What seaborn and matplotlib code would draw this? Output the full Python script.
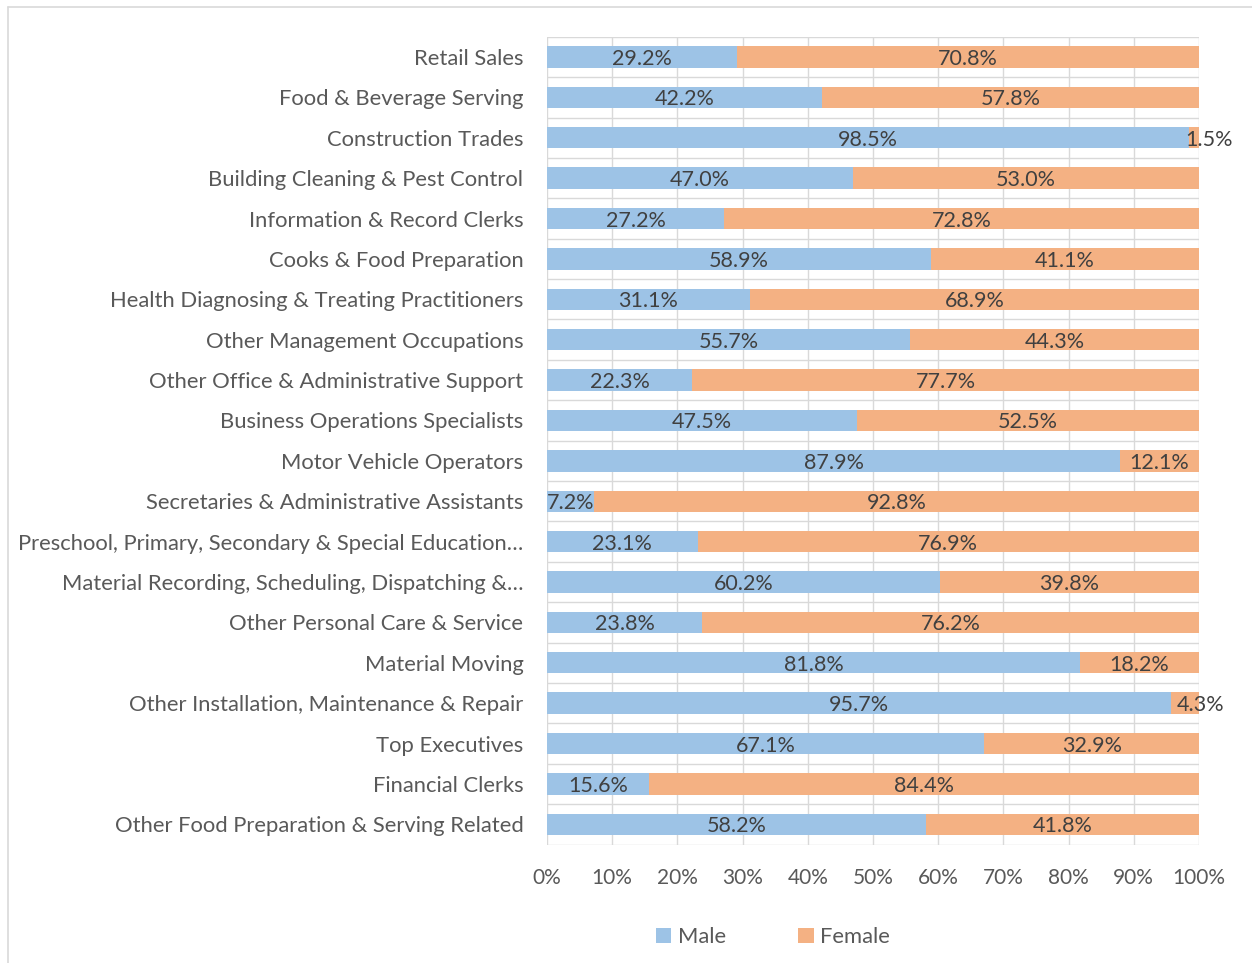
import matplotlib
matplotlib.use("Agg")
import matplotlib.pyplot as plt
from matplotlib.lines import Line2D
from matplotlib.patches import Patch
import numpy as np
import pandas as pd
import seaborn as sns

categories = [
    "Retail Sales",
    "Food & Beverage Serving",
    "Construction Trades",
    "Building Cleaning & Pest Control",
    "Information & Record Clerks",
    "Cooks & Food Preparation",
    "Health Diagnosing & Treating Practitioners",
    "Other Management Occupations",
    "Other Office & Administrative Support",
    "Business Operations Specialists",
    "Motor Vehicle Operators",
    "Secretaries & Administrative Assistants",
    "Preschool, Primary, Secondary & Special Education\u2026",
    "Material Recording, Scheduling, Dispatching &\u2026",
    "Other Personal Care & Service",
    "Material Moving",
    "Other Installation, Maintenance & Repair",
    "Top Executives",
    "Financial Clerks",
    "Other Food Preparation & Serving Related",
]
male = [29.2, 42.2, 98.5, 47.0, 27.2, 58.9, 31.1, 55.7, 22.3, 47.5,
        87.9, 7.2, 23.1, 60.2, 23.8, 81.8, 95.7, 67.1, 15.6, 58.2]
female = [70.8, 57.8, 1.5, 53.0, 72.8, 41.1, 68.9, 44.3, 77.7, 52.5,
          12.1, 92.8, 76.9, 39.8, 76.2, 18.2, 4.3, 32.9, 84.4, 41.8]
xticks = [0, 10, 20, 30, 40, 50, 60, 70, 80, 90, 100]
series_names = ["Male", "Female"]

BLUE = "#9DC3E6"
ORANGE = "#F4B183"
GRID = "#D9D9D9"
AXTXT = "#595959"
LBLTXT = "#404040"

sns.set_theme(style="white")
plt.rcParams["font.family"] = ["Lato", "DejaVu Sans"]

df = pd.DataFrame({"cat": categories, "male": male, "female": female})
df["total"] = df["male"] + df["female"]

fig = plt.figure(figsize=(12.52, 9.63), dpi=100)
ax = fig.add_axes([547 / 1252, 1 - 844.5 / 963, (1199 - 547) / 1252, (844.5 - 36.8) / 963])

sns.barplot(data=df, y="cat", x="total", color=ORANGE, orient="h", width=0.53,
            saturation=1, ax=ax, errorbar=None, zorder=3, linewidth=0)
sns.barplot(data=df, y="cat", x="male", color=BLUE, orient="h", width=0.53,
            saturation=1, ax=ax, errorbar=None, zorder=3, linewidth=0)

n = len(categories)
ax.set_xlim(0, 100)
ax.set_ylim(n - 0.5, -0.5)
ax.set_xticks(xticks)
ax.set_xticklabels([f"{t}%" for t in xticks])
ax.set_yticks(np.arange(n), minor=False)
ax.set_yticks(np.arange(-0.5, n, 1.0), minor=True)
ax.grid(True, which="major", axis="x", color=GRID, linewidth=1.0, zorder=0)
ax.grid(True, which="minor", axis="y", color=GRID, linewidth=1.0, zorder=0)
ax.grid(False, which="major", axis="y")
for s in ax.spines.values():
    s.set_visible(False)
ax.tick_params(axis="both", which="both", length=0)
ax.tick_params(axis="x", pad=17, labelsize=15, labelcolor=AXTXT)
ax.tick_params(axis="y", pad=17, labelsize=15.8, labelcolor=AXTXT)
ax.set_xlabel("")
ax.set_ylabel("")

for i, (m, f) in enumerate(zip(male, female)):
    ax.text(m / 2, i, f"{m:.1f}%", ha="center", va="center_baseline", fontsize=15.5,
            color=LBLTXT, zorder=5)
    xc = m + f / 2
    ax.annotate(f"{f:.1f}%", (xc, i), xytext=(11 if f < 5 else 0, 0),
                textcoords="offset points", ha="center", va="center_baseline",
                fontsize=15.5, color=LBLTXT, zorder=5, annotation_clip=False)

handles = [Patch(facecolor=BLUE, edgecolor="none"), Patch(facecolor=ORANGE, edgecolor="none")]
leg = fig.legend(handles, series_names, loc="center", ncol=2,
                 bbox_to_anchor=(773 / 1252, 1 - 937 / 963), frameon=False,
                 fontsize=15.8, handlelength=0.7, handleheight=0.7,
                 handletextpad=0.3, columnspacing=3.3, labelcolor=AXTXT)

# outer chart border
fig.add_artist(Line2D([7.5 / 1252, 1.0], [1 - 7.5 / 963] * 2, transform=fig.transFigure,
                      color=GRID, linewidth=1.2))
fig.add_artist(Line2D([7.5 / 1252] * 2, [0.0, 1 - 7.5 / 963], transform=fig.transFigure,
                      color=GRID, linewidth=1.2))

fig.savefig("out.png", dpi=100, facecolor="white")
